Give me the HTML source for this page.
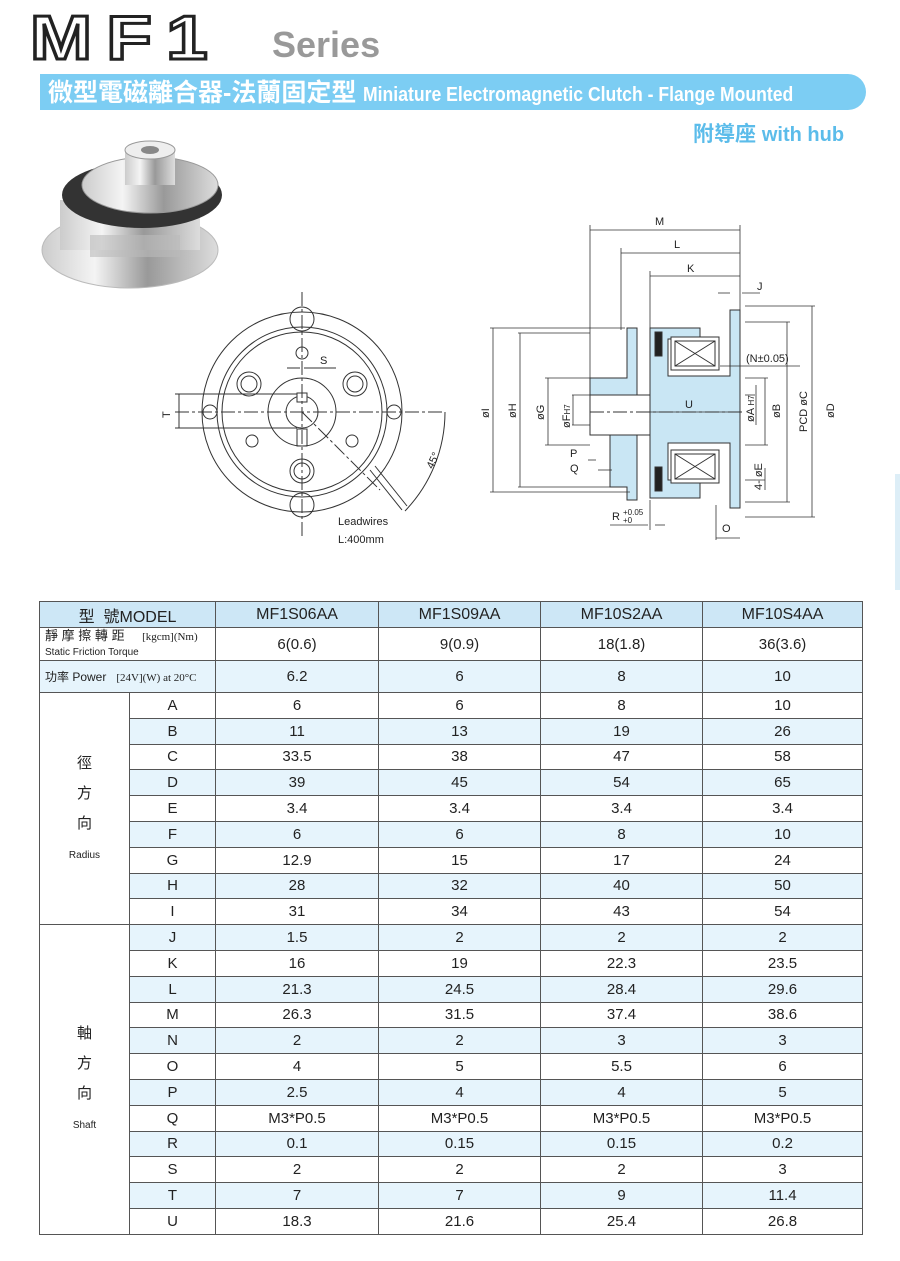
<!DOCTYPE html>
<html><head><meta charset="utf-8">
<style>
body{margin:0;background:#fff;}
#p{position:relative;width:900px;height:1261px;overflow:hidden;background:#fff;font-family:"Liberation Sans","Noto Sans CJK TC",sans-serif;}
.abs{position:absolute;}
table{border-collapse:collapse;position:absolute;left:39px;top:601px;width:823px;table-layout:fixed;}
td{border:1px solid #555;text-align:center;font-size:15px;color:#222;padding:0;height:24.8px;}
tr.b td.v{background:#e6f4fc;}
tr.h td{background:#cde7f6;font-size:16px;height:25px;}
td.g{background:#fff !important;font-size:15px;line-height:30px;}
</style></head><body><div id="p">
<!-- title -->
<div class="abs" style="left:30px;top:8px;font-size:62px;line-height:62px;font-weight:bold;color:#fff;-webkit-text-stroke:3px #222;letter-spacing:12px;font-family:'Liberation Sans',sans-serif;transform:scaleX(1.2);transform-origin:left top;white-space:nowrap;">MF1</div>
<div class="abs" style="left:272px;top:24px;font-size:36px;font-weight:bold;color:#999;">Series</div>
<div class="abs" style="left:40px;top:74px;width:826px;height:36px;background:#7ccdf3;border-radius:0 18px 18px 0;"></div>
<div class="abs" style="left:48px;top:78px;font-size:25px;font-weight:bold;color:#fff;white-space:nowrap;line-height:30px;">微型電磁離合器-法蘭固定型 <span style="font-size:20px;display:inline-block;transform:scaleX(0.88);transform-origin:left;">Miniature Electromagnetic Clutch - Flange Mounted</span></div>
<div class="abs" style="left:693px;top:118px;font-size:21px;font-weight:bold;color:#5bbcea;">附導座 <span style="font-size:20px">with hub</span></div>
<div class="abs" style="left:895px;top:474px;width:5px;height:116px;background:#ddeef7;"></div>
<!-- photo -->
<svg class="abs" style="left:30px;top:130px" width="200" height="170">
<defs><linearGradient id="m" x1="0" x2="1"><stop offset="0" stop-color="#ccc"/><stop offset=".3" stop-color="#f4f4f4"/><stop offset=".6" stop-color="#999"/><stop offset="1" stop-color="#ddd"/></linearGradient></defs>
<ellipse cx="100" cy="120" rx="88" ry="38" fill="url(#m)" stroke="#bbb"/>
<rect x="30" y="70" width="140" height="50" fill="url(#m)"/>
<ellipse cx="112" cy="65" rx="80" ry="33" fill="#333"/>
<ellipse cx="120" cy="55" rx="68" ry="28" fill="url(#m)" stroke="#999"/>
<rect x="95" y="20" width="50" height="35" fill="url(#m)"/>
<ellipse cx="120" cy="20" rx="25" ry="9" fill="#eee" stroke="#999"/>
<ellipse cx="120" cy="20" rx="9" ry="4" fill="#888"/>
<rect x="60" y="105" width="90" height="22" fill="#bbb" opacity=".6"/>
</svg>
<!-- front view -->
<svg class="abs" style="left:0;top:0" width="900" height="600" fill="none" stroke="#333" stroke-width="1">
<g>
<circle cx="302" cy="412" r="100"/><circle cx="302" cy="412" r="85"/><circle cx="302" cy="412" r="80"/>
<circle cx="302" cy="412" r="34"/><circle cx="302" cy="412" r="16"/>
<rect x="297" y="393" width="10" height="9" fill="#fff"/><rect x="297" y="429" width="10" height="17"/>
<circle cx="302" cy="319" r="12"/><circle cx="302" cy="505" r="12"/><circle cx="210" cy="412" r="7"/><circle cx="394" cy="412" r="7"/>
<circle cx="302" cy="353" r="6"/><circle cx="302" cy="471" r="12"/><circle cx="302" cy="471" r="8"/>
<circle cx="249" cy="384" r="12"/><circle cx="249" cy="384" r="8"/><circle cx="355" cy="384" r="12"/><circle cx="355" cy="384" r="8"/>
<circle cx="252" cy="441" r="6"/><circle cx="352" cy="441" r="6"/>
<g stroke-dasharray="14,3,3,3"><line x1="302" y1="292" x2="302" y2="538"/><line x1="175" y1="412" x2="445" y2="412"/><line x1="302" y1="412" x2="380" y2="490"/></g>
<line x1="175" y1="394" x2="297" y2="394"/><line x1="175" y1="428" x2="297" y2="428"/><line x1="179" y1="394" x2="179" y2="428"/>
<line x1="287" y1="368" x2="300" y2="368"/><line x1="304" y1="368" x2="336" y2="368"/>
<line x1="370" y1="470" x2="402" y2="510"/><line x1="375" y1="466" x2="407" y2="506"/>
<path d="M445 412 A143 143 0 0 1 405 511"/>
</g>
<g fill="#222" stroke="none" font-size="11" font-family="Liberation Sans">
<text x="320" y="364">S</text><text x="160" y="416" transform="rotate(-90 166 412)">T</text>
<text x="428" y="470" transform="rotate(-65 430 466)">45°</text>
<text x="338" y="525">Leadwires</text><text x="338" y="543">L:400mm</text>
</g>
<!-- section view -->
<g fill="#c9e6f4" stroke="#333">
<path d="M590 378 H627 V328 H637 V500 H627 V487 H610 V435 H590 Z"/>
<path d="M650 328 H700 V339 H668 V376 H730 V310 H740 V508 H730 V443 H668 V480 H700 V498 H650 Z"/>
</g>
<rect x="655" y="332" width="7" height="24" fill="#222"/><rect x="655" y="467" width="7" height="24" fill="#222"/>
<rect x="671" y="337" width="48" height="33" fill="#fff"/><path d="M675 341H715V366H675Z M675 341L715 366 M715 341L675 366"/>
<rect x="671" y="450" width="48" height="33" fill="#fff"/><path d="M675 454H715V479H675Z M675 454L715 479 M715 454L675 479"/>
<rect x="590" y="395" width="60" height="40" fill="#fff"/>
<line x1="590" y1="412" x2="745" y2="412" stroke-dasharray="14,3,3,3"/>
<g stroke-width=".8">
<line x1="590" y1="230" x2="740" y2="230"/><line x1="590" y1="225" x2="590" y2="378"/><line x1="740" y1="225" x2="740" y2="310"/>
<line x1="621" y1="253" x2="740" y2="253"/><line x1="621" y1="248" x2="621" y2="330"/>
<line x1="650" y1="276" x2="740" y2="276"/><line x1="650" y1="271" x2="650" y2="328"/>
<line x1="718" y1="293" x2="730" y2="293"/><line x1="742" y1="293" x2="760" y2="293"/>
<line x1="490" y1="328" x2="625" y2="328"/><line x1="493" y1="328" x2="493" y2="492"/><line x1="490" y1="492" x2="630" y2="492"/>
<line x1="518" y1="333" x2="590" y2="333"/><line x1="520" y1="333" x2="520" y2="487"/><line x1="518" y1="487" x2="610" y2="487"/>
<line x1="545" y1="378" x2="590" y2="378"/><line x1="548" y1="378" x2="548" y2="445"/><line x1="545" y1="445" x2="590" y2="445"/>
<line x1="572" y1="395" x2="590" y2="395"/><line x1="573" y1="395" x2="573" y2="425"/><line x1="572" y1="425" x2="590" y2="425"/>
<line x1="745" y1="306" x2="815" y2="306"/><line x1="812" y1="306" x2="812" y2="517"/><line x1="745" y1="517" x2="815" y2="517"/>
<line x1="745" y1="322" x2="790" y2="322"/><line x1="787" y1="322" x2="787" y2="502"/><line x1="745" y1="502" x2="790" y2="502"/>
<line x1="745" y1="378" x2="768" y2="378"/><line x1="765" y1="378" x2="765" y2="445"/><line x1="745" y1="445" x2="768" y2="445"/>
<line x1="745" y1="395" x2="755" y2="395"/><line x1="756" y1="385" x2="756" y2="425"/>
<line x1="720" y1="366" x2="800" y2="366"/>
<line x1="745" y1="480" x2="765" y2="480"/><line x1="765" y1="468" x2="765" y2="490"/>
<line x1="588" y1="460" x2="596" y2="460"/><line x1="598" y1="470" x2="612" y2="470"/>
<line x1="610" y1="525" x2="648" y2="525"/><line x1="655" y1="525" x2="665" y2="525"/><line x1="650" y1="500" x2="650" y2="530"/>
<line x1="716" y1="538" x2="740" y2="538"/><line x1="716" y1="505" x2="716" y2="540"/>
<line x1="640" y1="412" x2="740" y2="412"/>
</g>
<g fill="#222" stroke="none" font-size="11" font-family="Liberation Sans">
<text x="655" y="225">M</text><text x="674" y="248">L</text><text x="687" y="272">K</text><text x="757" y="290">J</text>
<text x="746" y="362">(N±0.05)</text><text x="685" y="408">U</text>
<text x="612" y="520">R</text><text x="623" y="515" font-size="8">+0.05</text><text x="623" y="523" font-size="8">+0</text>
<text x="722" y="532">O</text><text x="570" y="457">P</text><text x="570" y="472">Q</text>
<g transform="rotate(-90)">
<text x="-418" y="489">øI</text><text x="-418" y="516">øH</text><text x="-420" y="544">øG</text><text x="-428" y="570">øF<tspan font-size="8">H7</tspan></text>
<text x="-422" y="754">øA <tspan font-size="8">H7</tspan></text><text x="-418" y="780">øB</text><text x="-432" y="807">PCD øC</text><text x="-418" y="834">øD</text><text x="-490" y="762">4- øE</text>
</g></g>
</svg>
<!-- table -->
<table>
<colgroup><col style="width:90px"><col style="width:86px"><col style="width:163px"><col style="width:162px"><col style="width:162px"><col style="width:160px"></colgroup>
<tr class="h"><td colspan="2">型&nbsp;&nbsp;號MODEL</td><td>MF1S06AA</td><td>MF1S09AA</td><td>MF10S2AA</td><td>MF10S4AA</td></tr>
<tr><td colspan="2" style="height:32px;text-align:left;padding-left:5px;font-size:13px;line-height:13px;">靜 摩 擦 轉 距 <span style="font-family:'Liberation Serif';font-size:11px;margin-left:14px">[kgcm](Nm)</span><br><span style="font-size:10px">Static Friction Torque</span></td><td>6(0.6)</td><td>9(0.9)</td><td>18(1.8)</td><td>36(3.6)</td></tr>
<tr class="b"><td colspan="2" class="v" style="height:31px;text-align:left;padding-left:5px;font-size:12px;">功率 Power&nbsp;&nbsp; <span style="font-family:'Liberation Serif';font-size:11px">[24V](W) at 20°C</span></td><td class="v">6.2</td><td class="v">6</td><td class="v">8</td><td class="v">10</td></tr>
<tr><td rowspan="9" class="g">徑<br>方<br>向<br><span style="font-size:10px;line-height:20px">Radius</span></td><td>A</td><td>6</td><td>6</td><td>8</td><td>10</td></tr>
<tr class="b"><td class="v">B</td><td class="v">11</td><td class="v">13</td><td class="v">19</td><td class="v">26</td></tr>
<tr><td>C</td><td>33.5</td><td>38</td><td>47</td><td>58</td></tr>
<tr class="b"><td class="v">D</td><td class="v">39</td><td class="v">45</td><td class="v">54</td><td class="v">65</td></tr>
<tr><td>E</td><td>3.4</td><td>3.4</td><td>3.4</td><td>3.4</td></tr>
<tr class="b"><td class="v">F</td><td class="v">6</td><td class="v">6</td><td class="v">8</td><td class="v">10</td></tr>
<tr><td>G</td><td>12.9</td><td>15</td><td>17</td><td>24</td></tr>
<tr class="b"><td class="v">H</td><td class="v">28</td><td class="v">32</td><td class="v">40</td><td class="v">50</td></tr>
<tr><td>I</td><td>31</td><td>34</td><td>43</td><td>54</td></tr>
<tr class="b"><td rowspan="12" class="g">軸<br>方<br>向<br><span style="font-size:10px;line-height:20px">Shaft</span></td><td class="v">J</td><td class="v">1.5</td><td class="v">2</td><td class="v">2</td><td class="v">2</td></tr>
<tr><td>K</td><td>16</td><td>19</td><td>22.3</td><td>23.5</td></tr>
<tr class="b"><td class="v">L</td><td class="v">21.3</td><td class="v">24.5</td><td class="v">28.4</td><td class="v">29.6</td></tr>
<tr><td>M</td><td>26.3</td><td>31.5</td><td>37.4</td><td>38.6</td></tr>
<tr class="b"><td class="v">N</td><td class="v">2</td><td class="v">2</td><td class="v">3</td><td class="v">3</td></tr>
<tr><td>O</td><td>4</td><td>5</td><td>5.5</td><td>6</td></tr>
<tr class="b"><td class="v">P</td><td class="v">2.5</td><td class="v">4</td><td class="v">4</td><td class="v">5</td></tr>
<tr><td>Q</td><td>M3*P0.5</td><td>M3*P0.5</td><td>M3*P0.5</td><td>M3*P0.5</td></tr>
<tr class="b"><td class="v">R</td><td class="v">0.1</td><td class="v">0.15</td><td class="v">0.15</td><td class="v">0.2</td></tr>
<tr><td>S</td><td>2</td><td>2</td><td>2</td><td>3</td></tr>
<tr class="b"><td class="v">T</td><td class="v">7</td><td class="v">7</td><td class="v">9</td><td class="v">11.4</td></tr>
<tr><td>U</td><td>18.3</td><td>21.6</td><td>25.4</td><td>26.8</td></tr>
</table>
</div></body></html>
